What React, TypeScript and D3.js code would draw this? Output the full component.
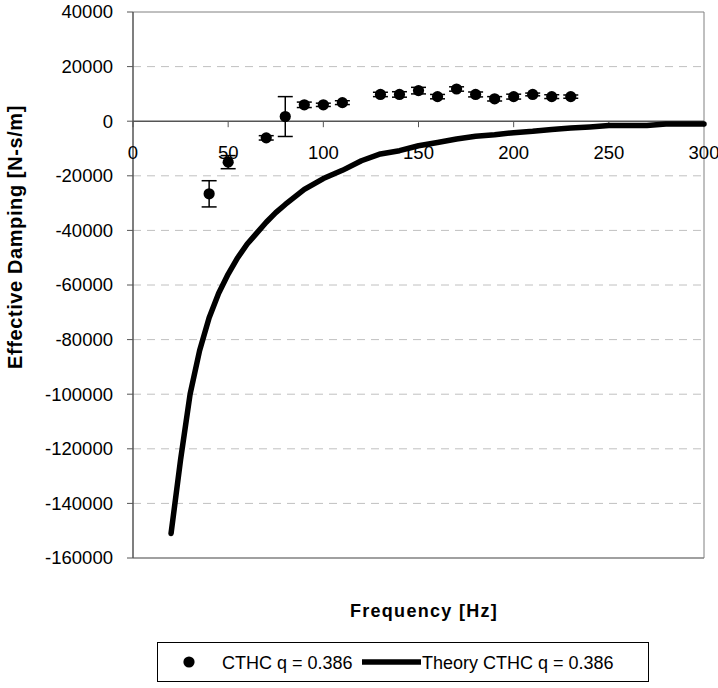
import React from "react";
import * as d3 from "d3";

const expFreq = [40, 50, 70, 80, 90, 100, 110, 130, 140, 150, 160, 170, 180, 190, 200, 210, 220, 230];
const expDamping = [-26600, -15000, -6100, 1700, 6000, 6000, 6800, 9800, 9800, 11200, 9000, 11800, 9800, 8200, 9000, 9800, 9000, 9000];
const expError = [4800, 2400, 800, 7300, 1000, 600, 700, 800, 1000, 1200, 800, 800, 900, 800, 900, 500, 700, 600];

const theoryFreq = [20, 25, 30, 35, 40, 45, 50, 55, 60, 65, 70, 75, 80, 90, 100, 110, 120, 130, 140, 150, 160, 170, 180, 190, 200, 210, 220, 230, 240, 250, 260, 270, 280, 290, 300];
const theoryDamping = [-151000, -124000, -100000, -84000, -72000, -63000, -56000, -50000, -45000, -41000, -37000, -33500, -30500, -25000, -21000, -18000, -14500, -12000, -10800, -9000, -7800, -6500, -5500, -5000, -4200, -3700, -3000, -2500, -2100, -1600, -1600, -1600, -1000, -1000, -1000];

const xTicks = [0, 50, 100, 150, 200, 250, 300];
const yTicks = [40000, 20000, 0, -20000, -40000, -60000, -80000, -100000, -120000, -140000, -160000];

const seriesLabels = ["CTHC q = 0.386", "Theory CTHC q = 0.386"];
const xTitle = "Frequency [Hz]";
const yTitle = "Effective Damping [N-s/m]";

const W = 718;
const H = 688;
const left = 133;
const right = 704;
const top = 12;
const bottom = 558;
const FONT = "'Liberation Sans', Arial, sans-serif";

export default function App() {
  const x = d3.scaleLinear().domain([0, 300]).range([left, right]);
  const y = d3.scaleLinear().domain([-160000, 40000]).range([bottom, top]);
  const line = d3
    .line<number>()
    .x((_, i) => x(theoryFreq[i]))
    .y((d) => y(d));
  const y0 = y(0);

  return (
    <svg
      width={W}
      height={H}
      style={{ position: "absolute", left: 0, top: 0, background: "#fff" }}
      fontFamily={FONT}
    >
      <rect x={0} y={0} width={W} height={H} fill="#fff" />
      {yTicks
        .filter((t) => t !== 0 && t !== 40000 && t !== -160000)
        .map((t) => (
          <line
            key={"g" + t}
            x1={left}
            x2={right}
            y1={y(t)}
            y2={y(t)}
            stroke="#c0c0c0"
            strokeWidth={1}
            strokeDasharray="8,6"
          />
        ))}
      <line x1={left} x2={right} y1={top} y2={top} stroke="#808080" strokeWidth={1} />
      <line x1={right} x2={right} y1={top} y2={bottom} stroke="#808080" strokeWidth={1} />
      <line x1={left} x2={right} y1={bottom} y2={bottom} stroke="#808080" strokeWidth={1.5} />
      <line x1={left} x2={left} y1={top} y2={bottom} stroke="#555" strokeWidth={1.5} />
      {yTicks.map((t) => (
        <g key={"y" + t}>
          <line x1={left - 6} x2={left} y1={y(t)} y2={y(t)} stroke="#555" strokeWidth={1} />
          <text
            x={left - 20}
            y={y(t)}
            dy="0.35em"
            textAnchor="end"
            fontSize={18.5}
            fill="#000"
          >
            {t}
          </text>
        </g>
      ))}
      <line x1={left} x2={right} y1={y0} y2={y0} stroke="#555" strokeWidth={1.5} />
      {xTicks.map((t) => (
        <g key={"x" + t}>
          <line x1={x(t)} x2={x(t)} y1={y0} y2={y0 + 6} stroke="#555" strokeWidth={1} />
          <text x={x(t)} y={y0 + 38} textAnchor="middle" fontSize={18.5} fill="#000">
            {t}
          </text>
        </g>
      ))}
      <path
        d={line(theoryDamping) || ""}
        fill="none"
        stroke="#000"
        strokeWidth={5.5}
        strokeLinejoin="round"
        strokeLinecap="round"
      />
      {expFreq.map((f, i) => {
        const cx = x(f);
        const v = expDamping[i];
        const e = expError[i];
        return (
          <g key={"p" + f}>
            <line x1={cx} x2={cx} y1={y(v + e)} y2={y(v - e)} stroke="#000" strokeWidth={1.5} />
            <line x1={cx - 7.5} x2={cx + 7.5} y1={y(v + e)} y2={y(v + e)} stroke="#000" strokeWidth={1.5} />
            <line x1={cx - 7.5} x2={cx + 7.5} y1={y(v - e)} y2={y(v - e)} stroke="#000" strokeWidth={1.5} />
            <circle cx={cx} cy={y(v)} r={5.6} fill="#000" />
          </g>
        );
      })}
      <text
        x={424}
        y={617}
        textAnchor="middle"
        fontSize={18}
        fontWeight="bold"
        letterSpacing={1.3}
        fill="#000"
      >
        {xTitle}
      </text>
      <text
        transform={`translate(22,237) rotate(-90)`}
        textAnchor="middle"
        fontSize={20}
        fontWeight="bold"
        letterSpacing={0.6}
        fill="#000"
      >
        {yTitle}
      </text>
      <rect x={157.5} y={642.5} width={491} height={39} fill="#fff" stroke="#000" strokeWidth={1} />
      <circle cx={189} cy={662} r={5.6} fill="#000" />
      <text x={222} y={668.5} fontSize={18} fill="#000">
        {seriesLabels[0]}
      </text>
      <line x1={362} x2={421} y1={662} y2={662} stroke="#000" strokeWidth={5.5} />
      <text x={422} y={668.5} fontSize={18} fill="#000">
        {seriesLabels[1]}
      </text>
    </svg>
  );
}
